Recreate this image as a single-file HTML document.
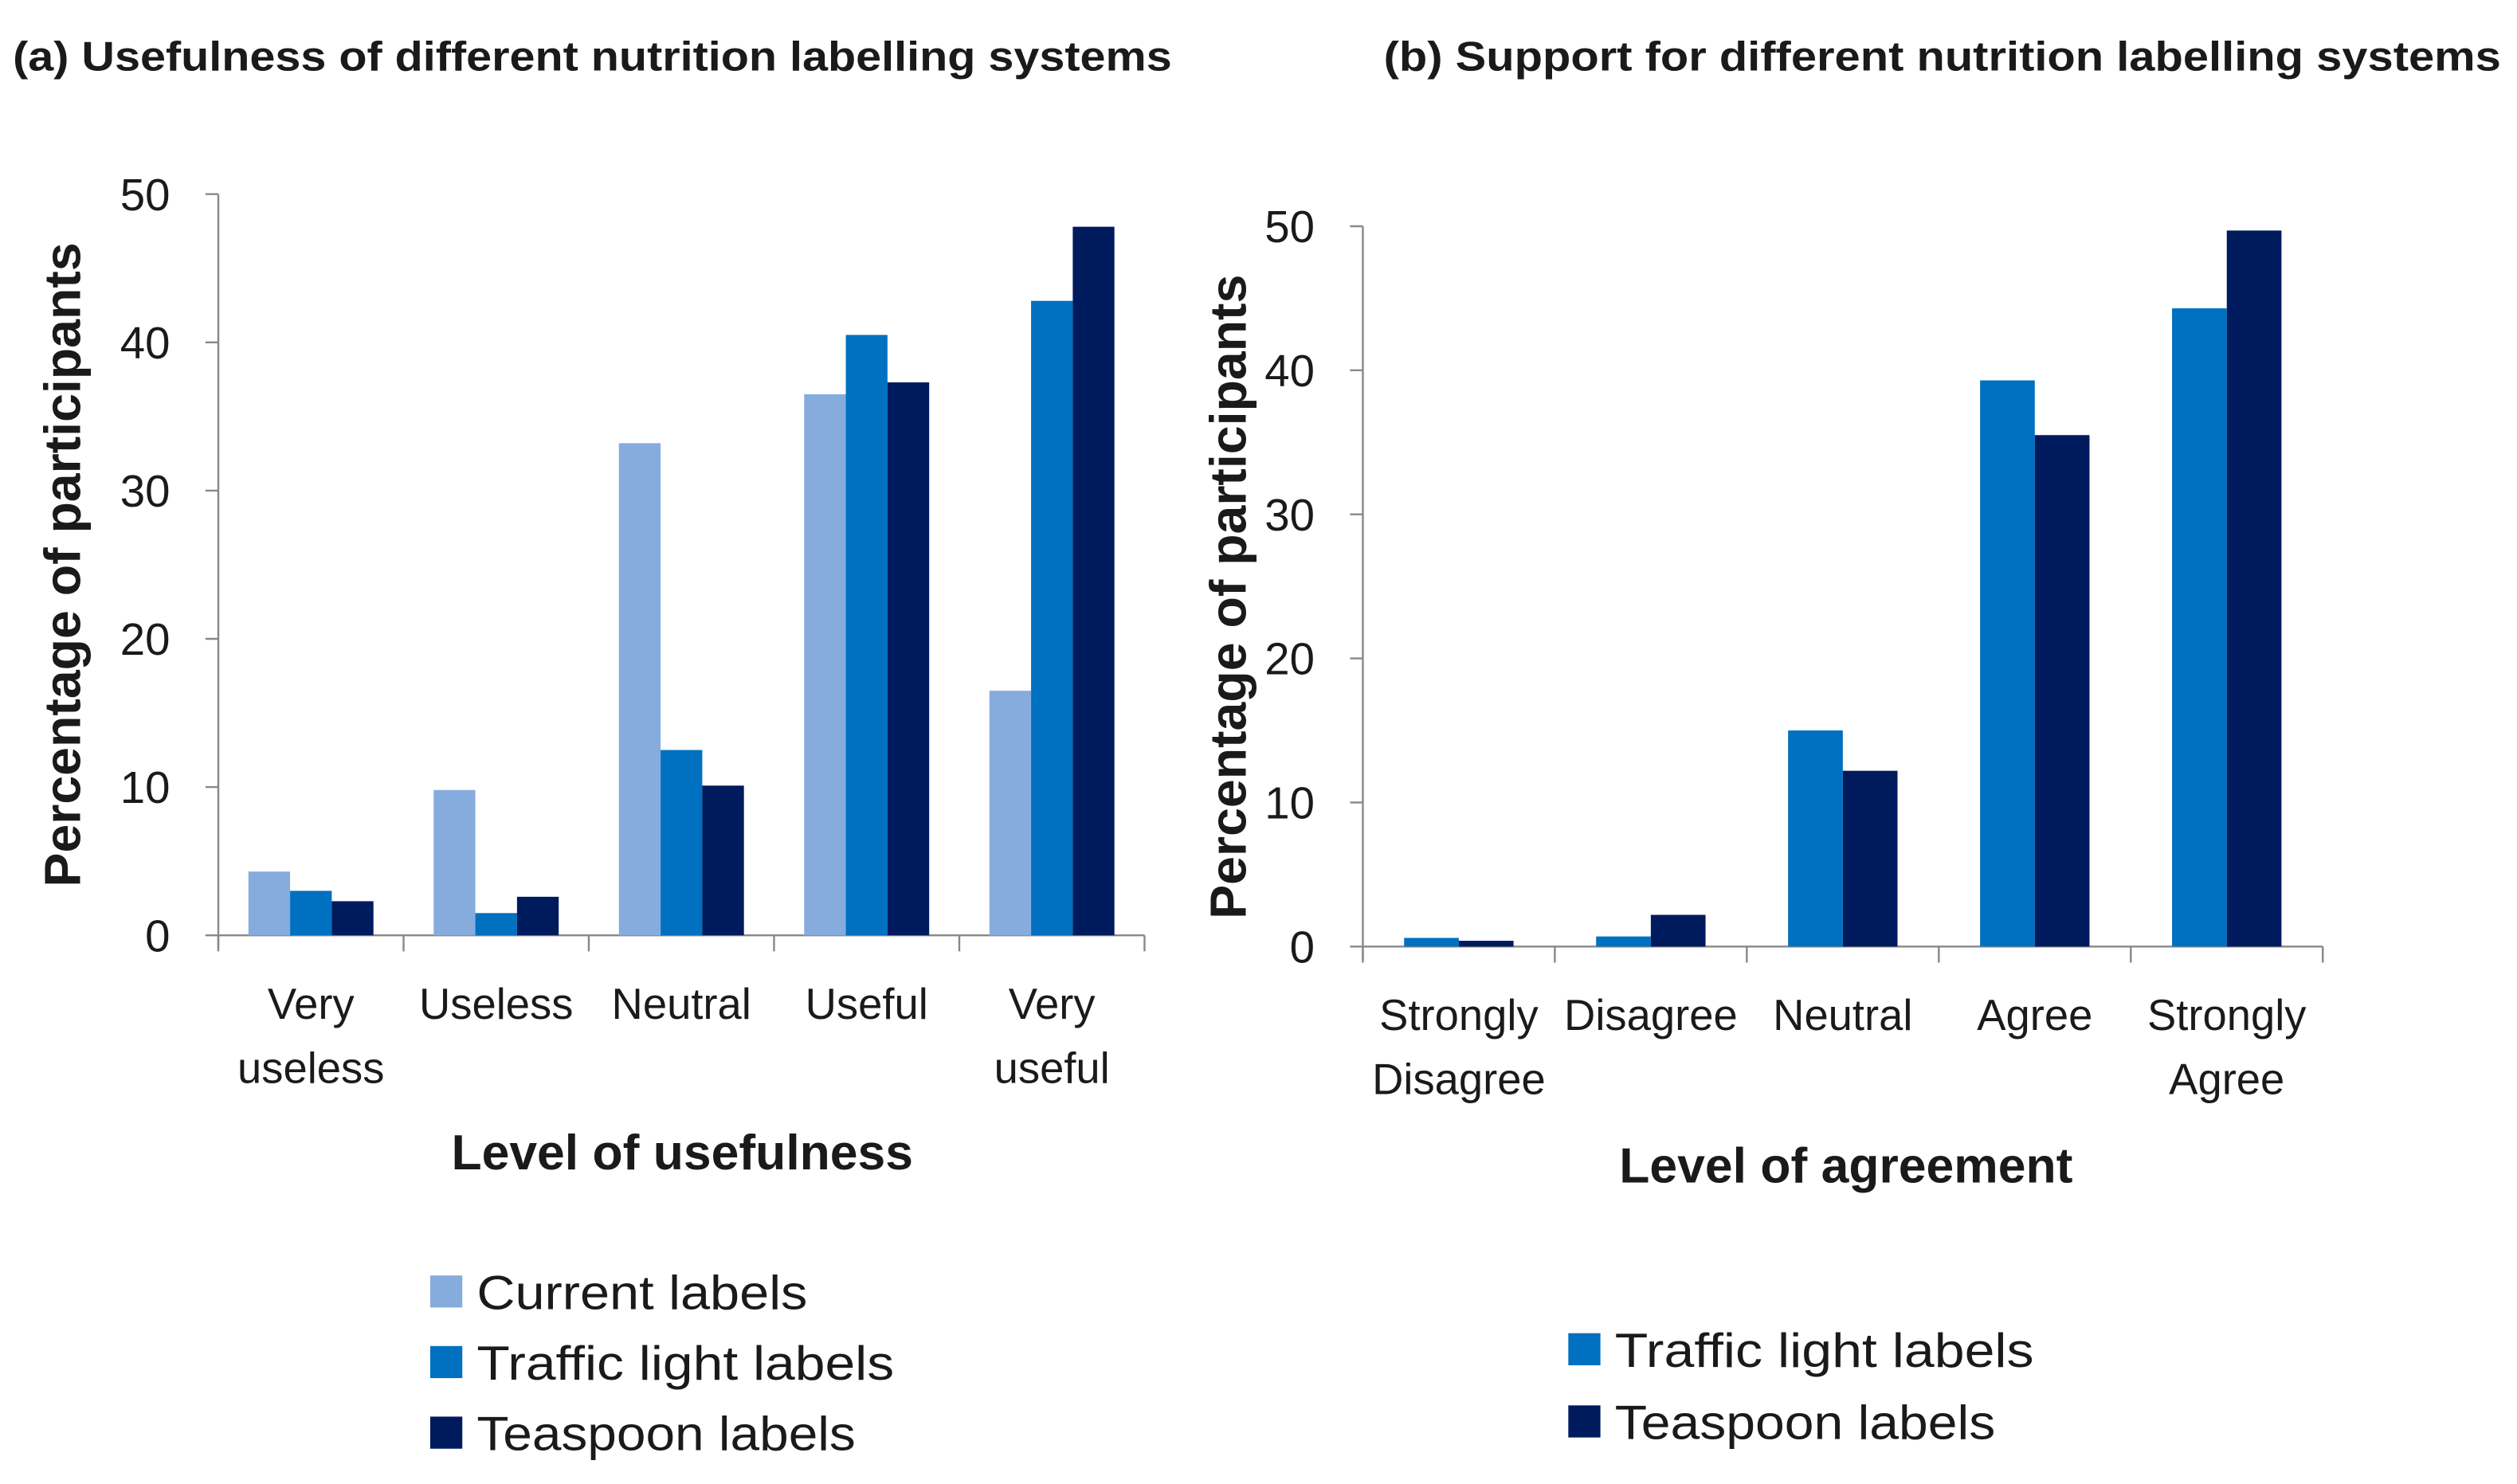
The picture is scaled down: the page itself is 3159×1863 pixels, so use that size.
<!DOCTYPE html>
<html><head><meta charset="utf-8"><style>
html,body{margin:0;padding:0;background:#fff;}
svg{display:block;}
text{font-family:"Liberation Sans",sans-serif;fill:#1a1a1a;}
</style></head><body>
<svg id="fig" width="3159" height="1863" viewBox="0 0 1568 925" preserveAspectRatio="none" xmlns="http://www.w3.org/2000/svg">
<rect width="1568" height="925" fill="#fff"/>
<text x="8" y="44" font-size="26" font-weight="bold" textLength="722" lengthAdjust="spacingAndGlyphs">(a) Usefulness of different nutrition labelling systems</text>
<text x="862" y="44" font-size="26" font-weight="bold" textLength="696" lengthAdjust="spacingAndGlyphs">(b) Support for different nutrition labelling systems</text>
<g id="ca"></g>
<g id="cb"></g>
</svg>
<script>
var catsA = [["Very","useless"],["Useless"],["Neutral"],["Useful"],["Very","useful"]];
var currentA = [4.3, 9.8, 33.2, 36.5, 16.5];
var trafficA = [3.0, 1.5, 12.5, 40.5, 42.8];
var teaspoonA = [2.3, 2.6, 10.1, 37.3, 47.8];
var catsB = [["Strongly","Disagree"],["Disagree"],["Neutral"],["Agree"],["Strongly","Agree"]];
var trafficB = [0.6, 0.7, 15.0, 39.3, 44.3];
var teaspoonB = [0.4, 2.2, 12.2, 35.5, 49.7];
var yTicks = [0, 10, 20, 30, 40, 50];

var NS = "http://www.w3.org/2000/svg";
function mk(parent, tag, attrs, txt) {
  var e = document.createElementNS(NS, tag);
  for (var k in attrs) e.setAttribute(k, attrs[k]);
  if (txt !== undefined) e.textContent = txt;
  parent.appendChild(e);
  return e;
}
function drawChart(g, cfg) {
  var x0 = cfg.x0, x1 = cfg.x1, yTop = cfg.yTop, yBot = cfg.yBot;
  function yS(v) { return yBot - (v / 50) * (yBot - yTop); }
  var n = cfg.cats.length, gw = (x1 - x0) / n;
  var ax = mk(g, "line", {x1: x0, y1: yTop, x2: x0, y2: yBot + 8, stroke: "#888", "stroke-width": 1.2});
  
  
  var bx = mk(g, "line", {x1: x0, y1: yBot, x2: x1, y2: yBot, stroke: "#888", "stroke-width": 1.2});
  
  
  yTicks.forEach(function (t) {
    var y = yS(t);
    var tk = mk(g, "line", {x1: x0 - 8, y1: y, x2: x0, y2: y, stroke: "#888", "stroke-width": 1.2});
    
    
    var tl = mk(g, "text", {x: x0 - 30, y: y + 10, "font-size": 28, "text-anchor": "end"}, String(t));
    
    
  });
  for (var i = 0; i <= n; i++) {
    var xt = x0 + i * gw;
    var tk2 = mk(g, "line", {x1: xt, y1: yBot, x2: xt, y2: yBot + 10, stroke: "#888", "stroke-width": 1.2});
    
    
  }
  var ns = cfg.series.length;
  var bw = gw * cfg.bwFrac, off = (gw - ns * bw) / 2;
  cfg.cats.forEach(function (c, i) {
    var gx = x0 + i * gw;
    cfg.series.forEach(function (s, j) {
      var v = s.vals[i];
      var r = mk(g, "rect", {x: gx + off + j * bw, y: yS(v), width: bw, height: yBot - yS(v), fill: s.color});
      
      
    });
    c.forEach(function (line, k) {
      var t = mk(g, "text", {x: gx + gw / 2, y: yBot + 52 + k * 40, "font-size": 27, "text-anchor": "middle"}, line);
      
      
    });
  });
  var xt2 = mk(g, "text", {x: cfg.xTitleX, y: cfg.xTitleY, "font-size": 31, "font-weight": "bold", "text-anchor": "middle"}, cfg.xTitle);
  
  
  var yt = mk(g, "text", {x: 0, y: 0, "font-size": 32, "font-weight": "bold", "text-anchor": "middle", transform: "translate(" + cfg.yTitleX + "," + cfg.yTitleY + ") rotate(-90)"}, "Percentage of participants");
  
  
  cfg.series.forEach(function (s, j) {
    var ly = cfg.legY + j * cfg.legStep;
    var sq = mk(g, "rect", {x: cfg.legX, y: ly - 10, width: 20, height: 20, fill: s.color});
    
    
    var lt = mk(g, "text", {x: cfg.legX + 29, y: ly + 11, "font-size": 30, textLength: s.lw, lengthAdjust: "spacingAndGlyphs"}, s.label);
    
    
  });
}
drawChart(document.getElementById("ca"), {
  x0: 136, x1: 713, yTop: 121, yBot: 583, bwFrac: 0.225, cats: catsA,
  series: [
    {key: "current", label: "Current labels", color: "#86ACDE", vals: currentA, lw: 206},
    {key: "traffic", label: "Traffic light labels", color: "#0070C0", vals: trafficA, lw: 260},
    {key: "teaspoon", label: "Teaspoon labels", color: "#001A5E", vals: teaspoonA, lw: 236}
  ],
  xTitle: "Level of usefulness", xTitleX: 425, xTitleY: 729, yTitleX: 50, yTitleY: 352,
  legX: 268, legY: 805, legStep: 44
});
drawChart(document.getElementById("cb"), {
  x0: 849, x1: 1447, yTop: 141, yBot: 590, bwFrac: 0.285, cats: catsB,
  series: [
    {key: "traffic", label: "Traffic light labels", color: "#0070C0", vals: trafficB, lw: 261},
    {key: "teaspoon", label: "Teaspoon labels", color: "#001A5E", vals: teaspoonB, lw: 237}
  ],
  xTitle: "Level of agreement", xTitleX: 1150, xTitleY: 737, yTitleX: 776, yTitleY: 372,
  legX: 977, legY: 841, legStep: 45
});
</script>
</body></html>
